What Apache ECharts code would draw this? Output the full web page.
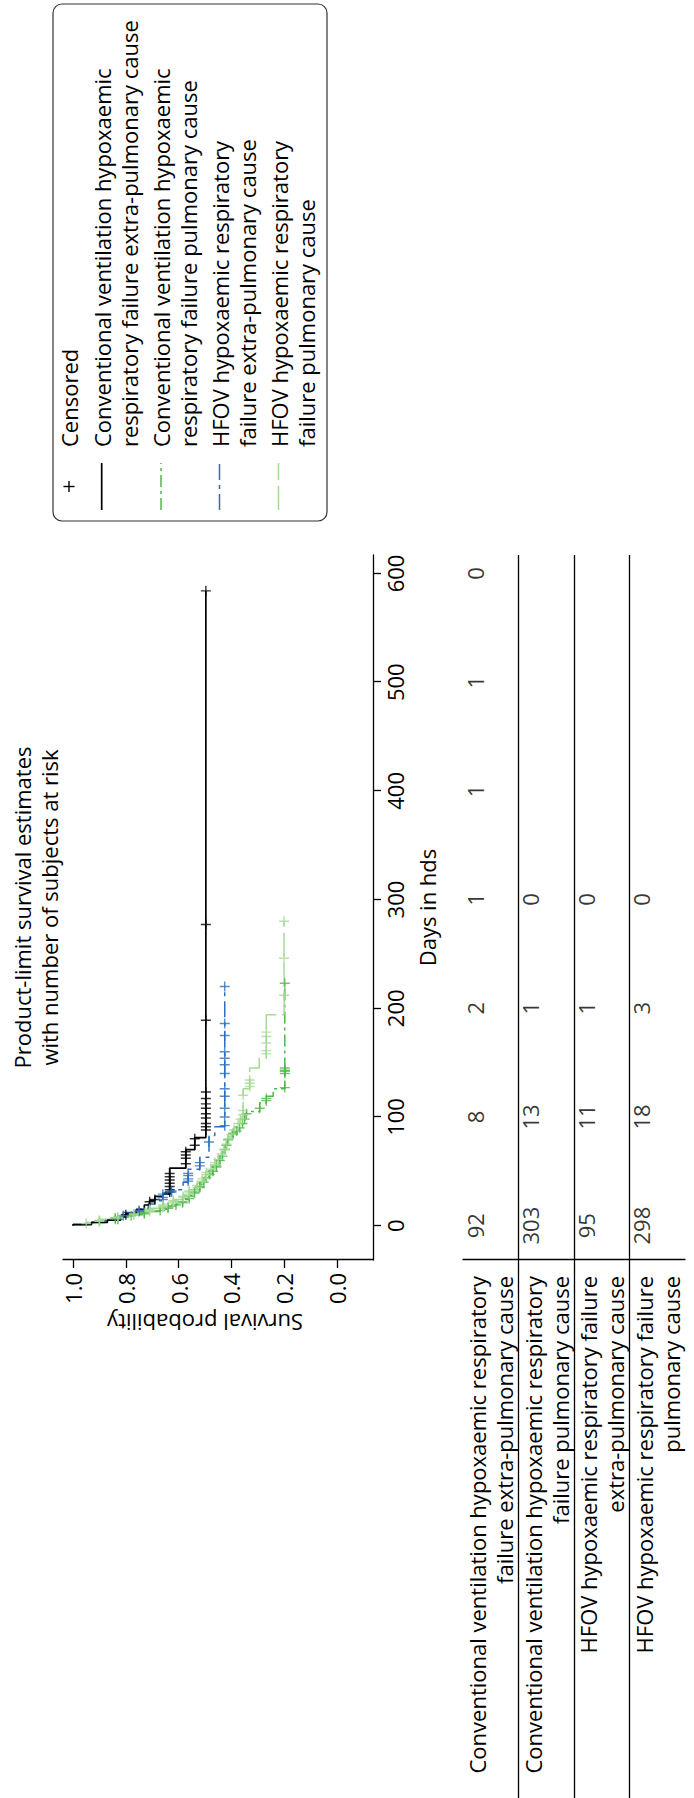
<!DOCTYPE html>
<html>
<head>
<meta charset="utf-8">
<script src="https://cdn.jsdelivr.net/npm/echarts@6/dist/echarts.min.js"></script>
<style>
html,body{margin:0;padding:0;background:#fff;width:694px;height:1798px;overflow:hidden;}
#chart{position:absolute;left:0;top:0;width:1798px;height:694px;transform-origin:0 0;transform:translate(0,1798px) rotate(-90deg);}
</style>
</head>
<body>
<div id="chart"></div>
<script>
// ---------- data ----------
const dayTicks = [0, 100, 200, 300, 400, 500, 600];
const survTicks = [0, 0.2, 0.4, 0.6, 0.8, 1.0];
const titleText = 'Product-limit survival estimates\nwith number of subjects at risk';

const groupNames = [
  'Conventional ventilation hypoxaemic respiratory failure extra-pulmonary cause',
  'Conventional ventilation hypoxaemic respiratory failure pulmonary cause',
  'HFOV hypoxaemic respiratory failure extra-pulmonary cause',
  'HFOV hypoxaemic respiratory failure pulmonary cause'
];
const legendLines = [
  ['Conventional ventilation hypoxaemic', 'respiratory failure extra-pulmonary cause'],
  ['Conventional ventilation hypoxaemic', 'respiratory failure pulmonary cause'],
  ['HFOV hypoxaemic respiratory', 'failure extra-pulmonary cause'],
  ['HFOV hypoxaemic respiratory', 'failure pulmonary cause']
];
const rowLabels = [
  'Conventional ventilation hypoxaemic respiratory\nfailure extra-pulmonary cause',
  'Conventional ventilation hypoxaemic respiratory\nfailure pulmonary cause',
  'HFOV hypoxaemic respiratory failure\nextra-pulmonary cause',
  'HFOV hypoxaemic respiratory failure\npulmonary cause'
];

// Conventional ventilation, extra-pulmonary cause (black)
const cvExtraDays = [0, 1, 3, 5, 8, 11, 15, 19, 23, 27, 29, 53, 70, 81, 584];
const cvExtraSurv = [1.0, 0.93, 0.87, 0.82, 0.80, 0.76, 0.73, 0.71, 0.69, 0.66, 0.634, 0.573, 0.539, 0.497, 0.497];
const cvExtraCensor = [10, 22, 24, 31, 33, 36, 39, 42, 45, 48, 57, 62, 65, 68, 74, 80, 88, 91, 94, 99, 103, 108, 112, 117, 123, 189, 277, 584];

// Conventional ventilation, pulmonary cause (green)
const cvPulmDays = [0, 1, 3, 5, 8, 10, 13, 15, 18, 20, 24, 28, 33, 38, 42, 45, 48, 52, 57, 62, 67, 72, 76, 82, 86, 88, 92, 96, 102, 105, 113, 119, 126, 223];
const cvPulmSurv = [1.0, 0.95, 0.9, 0.84, 0.78, 0.73, 0.67, 0.64, 0.61, 0.585, 0.56, 0.54, 0.52, 0.505, 0.495, 0.483, 0.47, 0.457, 0.444, 0.434, 0.425, 0.419, 0.413, 0.394, 0.38, 0.369, 0.358, 0.35, 0.343, 0.293, 0.268, 0.242, 0.198, 0.198];
const cvPulmCensor = [4, 6, 7, 9, 11, 12, 14, 16, 17, 19, 21, 22, 25, 27, 30, 31, 35, 36, 40, 44, 47, 50, 54, 55, 60, 64, 70, 74, 79, 84, 85, 87, 90, 94, 98, 103, 108, 115, 117, 127, 140, 142, 143, 145, 223];

// HFOV, extra-pulmonary cause (blue)
const hfExtraDays = [0, 1, 3, 5, 8, 12, 15, 20, 23, 30, 33, 40, 52, 63, 83, 91, 220];
const hfExtraSurv = [1.0, 0.93, 0.88, 0.83, 0.81, 0.75, 0.715, 0.69, 0.66, 0.627, 0.583, 0.564, 0.52, 0.485, 0.463, 0.4255, 0.4255];
const hfExtraCensor = [6, 9, 13, 14, 24, 26, 29, 31, 32, 41, 43, 46, 48, 55, 58, 77, 92, 100, 108, 119, 126, 140, 148, 154, 160, 175, 186, 220];

// HFOV, pulmonary cause (light green)
const hfPulmDays = [0, 1, 3, 6, 9, 12, 16, 20, 24, 28, 33, 39, 45, 50, 54, 59, 64, 68, 73, 78, 82, 86, 91, 96, 100, 126, 145, 154, 194, 280];
const hfPulmSurv = [1.0, 0.95, 0.9, 0.83, 0.77, 0.71, 0.66, 0.62, 0.583, 0.56, 0.53, 0.51, 0.495, 0.478, 0.463, 0.45, 0.438, 0.428, 0.419, 0.41, 0.40, 0.39, 0.375, 0.366, 0.356, 0.331, 0.295, 0.268, 0.2008, 0.2008];
const hfPulmCensor = [2, 4, 5, 7, 8, 10, 11, 13, 14, 15, 17, 18, 19, 21, 22, 23, 26, 27, 29, 31, 32, 35, 37, 41, 43, 47, 49, 52, 56, 58, 61, 66, 70, 75, 80, 84, 88, 94, 98, 102, 106, 120, 128, 131, 134, 158, 161, 168, 174, 178, 212, 246, 280];

// Number of subjects at risk at each day tick
const atRisk = [
  [92, 8, 2, 1, 1, 1, 0],
  [303, 13, 1, 0],
  [95, 11, 1, 0],
  [298, 18, 3, 0]
];

// ---------- styles ----------
const FONT = '"Open Sans", "Noto Sans", sans-serif';
const FS = 22;
const colors = ['#000000', '#4db848', '#2a6ebf', '#a5d996'];
const dashes = ['solid', [12, 4, 3, 4], [16, 5, 4, 5], [24, 6]];
const PLUS = 'path://M8.6,0H11.4V8.6H20V11.4H11.4V20H8.6V11.4H0V8.6H8.6Z';

const groups = [
  {days: cvExtraDays, surv: cvExtraSurv, cens: cvExtraCensor},
  {days: cvPulmDays, surv: cvPulmSurv, cens: cvPulmCensor},
  {days: hfExtraDays, surv: hfExtraSurv, cens: hfExtraCensor},
  {days: hfPulmDays, surv: hfPulmSurv, cens: hfPulmCensor}
];

function survAt(g, t) {
  let s = g.surv[0];
  for (let i = 0; i < g.days.length; i++) { if (g.days[i] <= t) s = g.surv[i]; }
  return s;
}

const lineSeries = groups.map((g, k) => ({
  name: groupNames[k],
  type: 'line',
  step: 'end',
  xAxisIndex: 0, yAxisIndex: 0,
  symbol: 'none',
  z: k === 0 ? 6 : 3 + k * 0.1,
  lineStyle: {color: colors[k], width: k === 0 ? 1.7 : 1.5, type: dashes[k]},
  itemStyle: {color: colors[k]},
  data: g.days.map((d, i) => [d, g.surv[i]])
}));

const censorData = [];
groups.forEach((g, k) => {
  g.cens.forEach(t => censorData.push({value: [t, survAt(g, t)], itemStyle: {color: colors[k]}}));
});

const riskData = [];
atRisk.forEach((row, r) => row.forEach((n, j) => riskData.push([dayTicks[j], r + 0.5, n])));

// ---------- legend box (top-right of the landscape figure) ----------
const LG = {x: 1277, y: 53, w: 517, h: 274, iconX1: 11, iconX2: 58, textX: 74};
const legendCenters = [16, 48.7, 108, 166.5, 225.5];
const legendChildren = [
  {type: 'rect', shape: {x: 0, y: 0, width: LG.w, height: LG.h, r: 9}, style: {fill: '#fff', stroke: '#333', lineWidth: 1.2}},
  {type: 'rect', shape: {x: (LG.iconX1 + LG.iconX2) / 2 - 5.5, y: legendCenters[0] - 0.7, width: 11, height: 1.4}, style: {fill: '#000'}},
  {type: 'rect', shape: {x: (LG.iconX1 + LG.iconX2) / 2 - 0.7, y: legendCenters[0] - 5.5, width: 1.4, height: 11}, style: {fill: '#000'}},
  {type: 'text', x: LG.textX, y: legendCenters[0], style: {text: 'Censored', fontSize: FS, fontFamily: FONT, fill: '#000', verticalAlign: 'middle'}}
];
groupNames.forEach((n, k) => {
  const c = legendCenters[k + 1];
  legendChildren.push({type: 'line', shape: {x1: LG.iconX1, y1: c, x2: LG.iconX2, y2: c},
    style: {stroke: colors[k], lineWidth: k === 0 ? 1.7 : 1.5, lineDash: dashes[k] === 'solid' ? null : dashes[k]}});
  legendChildren.push({type: 'text', x: LG.textX, y: c - 13.5,
    style: {text: legendLines[k][0] + '\n' + legendLines[k][1], fontSize: FS, lineHeight: 27, fontFamily: FONT, fill: '#000', verticalAlign: 'top'}});
});

const axisColor = '#000';
const option = {
  animation: false,
  textStyle: {fontFamily: FONT, color: '#000'},
  graphic: [{type: 'group', x: LG.x, y: LG.y, silent: true, children: legendChildren}],
  grid: [
    {left: 538, top: 63, width: 705, height: 310},
    {left: 538, top: 463, width: 705, height: 235}
  ],
  xAxis: [
    {
      type: 'value', gridIndex: 0, min: -31.6, max: 617,
      name: 'Days in hds', nameLocation: 'middle', nameGap: 43,
      nameTextStyle: {fontSize: FS, color: '#000', fontFamily: FONT},
      axisLine: {show: true, onZero: false, lineStyle: {color: axisColor, width: 1.3}},
      axisTick: {show: true, length: 8, customValues: dayTicks, lineStyle: {color: axisColor, width: 1.3}},
      axisLabel: {customValues: dayTicks, margin: 11, fontSize: FS, color: '#000', fontFamily: FONT},
      splitLine: {show: false}
    },
    {type: 'value', gridIndex: 1, min: -31.6, max: 617, show: false},
    {
      // plot title, centred over the plot area
      type: 'value', gridIndex: 0, min: -31.6, max: 617, position: 'top',
      name: titleText, nameLocation: 'middle', nameGap: 1,
      nameTextStyle: {fontSize: FS, lineHeight: 27, color: '#000', fontFamily: FONT, verticalAlign: 'bottom'},
      axisLine: {show: false}, axisTick: {show: false}, axisLabel: {show: false}, splitLine: {show: false}
    }
  ],
  yAxis: [
    {
      type: 'value', gridIndex: 0, min: -0.136, max: 1.038,
      name: 'Survival probability', nameLocation: 'middle', nameGap: 52, nameRotate: 90,
      nameTextStyle: {fontSize: FS, color: '#000', fontFamily: FONT, padding: [0, 0, 0, 26]},
      axisLine: {show: true, onZero: false, lineStyle: {color: axisColor, width: 1.3}},
      axisTick: {show: true, length: 8, customValues: survTicks, lineStyle: {color: axisColor, width: 1.3}},
      axisLabel: {customValues: survTicks, formatter: v => v.toFixed(1), margin: 13, fontSize: FS, color: '#000', fontFamily: FONT},
      splitLine: {show: false}
    },
    {
      type: 'value', gridIndex: 1, min: 0, max: 4, inverse: true,
      axisLine: {show: true, onZero: false, lineStyle: {color: axisColor, width: 1.3}},
      axisTick: {show: true, length: 538, customValues: [1, 2, 3], lineStyle: {color: axisColor, width: 1.3}},
      axisLabel: {
        customValues: [0.5, 1.5, 2.5, 3.5],
        formatter: v => rowLabels[Math.floor(v)],
        margin: 16, fontSize: FS, lineHeight: 27, color: '#000', fontFamily: FONT, align: 'right'
      },
      splitLine: {show: true, lineStyle: {color: axisColor, width: 1.3}}
    }
  ],
  series: lineSeries.concat([
    {
      name: 'Censored', type: 'scatter', xAxisIndex: 0, yAxisIndex: 0,
      symbol: PLUS, symbolSize: 10, z: 8,
      data: censorData
    },
    {
      name: 'atRisk', type: 'scatter', xAxisIndex: 1, yAxisIndex: 1,
      symbol: 'circle', symbolSize: 1, silent: true,
      itemStyle: {color: 'rgba(0,0,0,0)'},
      label: {show: true, position: 'inside', formatter: p => String(p.value[2]), fontSize: FS, color: '#000', fontFamily: FONT, offset: [0, -16]},
      data: riskData
    }
  ])
};

const chart = echarts.init(document.getElementById('chart'), null, {renderer: 'svg', width: 1798, height: 694});
chart.setOption(option);
</script>
</body>
</html>
